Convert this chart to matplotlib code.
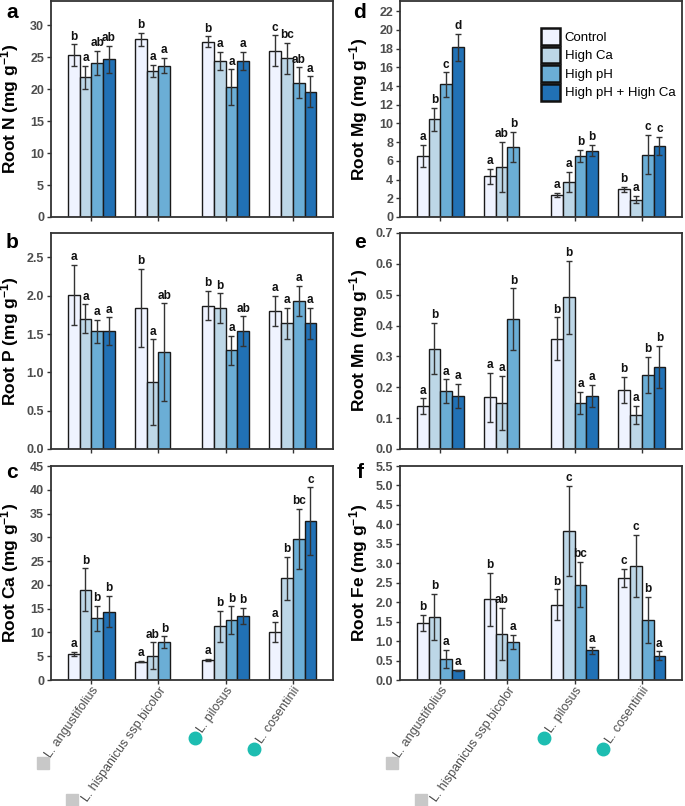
import numpy as np
import matplotlib
matplotlib.use("Agg")
import matplotlib.pyplot as plt
from matplotlib.patches import Patch
from matplotlib.lines import Line2D

plt.rcParams['font.family'] = ['Liberation Sans', 'DejaVu Sans']
plt.rcParams['mathtext.default'] = 'regular'

species = ['L. angustifolius', 'L. hispanicus ssp.bicolor', 'L. pilosus', 'L. cosentinii']
treatments = ['Control', 'High Ca', 'High pH', 'High pH + High Ca']
colors = ['#EFF3FF', '#BDD7E7', '#6BAED6', '#2171B5']
sp_marker = ['s', 's', 'o', 'o']
sp_color = ['#C8C8C8', '#C8C8C8', '#1DBDB1', '#1DBDB1']

# one row per species, one column per treatment (None = not grown)
n_mean = [[25.3, 21.9, 24.1, 24.7], [27.8, 22.9, 23.7, None], [27.4, 24.4, 20.3, 24.4], [26.0, 24.8, 21.0, 19.6]]
n_err = [[1.7, 1.8, 1.9, 2.1], [1.0, 0.95, 1.2, None], [0.85, 1.4, 2.8, 1.4], [2.4, 2.4, 2.4, 2.4]]
n_sig = [['b', 'a', 'ab', 'ab'], ['b', 'a', 'a', None], ['b', 'a', 'a', 'a'], ['c', 'bc', 'ab', 'a']]

p_mean = [[2.01, 1.70, 1.535, 1.54], [1.84, 0.87, 1.26, None], [1.87, 1.84, 1.29, 1.54], [1.80, 1.64, 1.93, 1.64]]
p_err = [[0.39, 0.19, 0.15, 0.18], [0.51, 0.56, 0.64, None], [0.19, 0.19, 0.19, 0.19], [0.2, 0.2, 0.2, 0.2]]
p_sig = [['a', 'a', 'a', 'a'], ['b', 'a', 'ab', None], ['b', 'b', 'a', 'ab'], ['a', 'a', 'a', 'a']]

ca_mean = [[5.5, 19.0, 13.0, 14.4], [3.85, 5.1, 8.0, None], [4.3, 11.3, 12.6, 13.5], [10.1, 21.4, 29.7, 33.4]]
ca_err = [[0.4, 4.5, 2.6, 3.3], [0.15, 2.8, 1.2, None], [0.2, 3.2, 2.9, 1.7], [2.1, 4.5, 6.3, 7.1]]
ca_sig = [['a', 'b', 'b', 'b'], ['a', 'ab', 'b', None], ['a', 'b', 'b', 'b'], ['a', 'b', 'bc', 'c']]

mg_mean = [[6.5, 10.44, 14.17, 18.15], [4.33, 5.36, 7.5, None], [2.38, 3.73, 6.5, 7.1], [2.95, 1.85, 6.68, 7.6]]
mg_err = [[1.2, 1.25, 1.3, 1.45], [0.8, 2.7, 1.6, None], [0.22, 1.1, 0.65, 0.6], [0.3, 0.4, 2.1, 1.0]]
mg_sig = [['a', 'b', 'c', 'd'], ['a', 'ab', 'b', None], ['a', 'a', 'b', 'b'], ['b', 'a', 'c', 'c']]

mn_mean = [[0.138, 0.325, 0.187, 0.172], [0.167, 0.150, 0.420, None], [0.357, 0.491, 0.149, 0.172], [0.191, 0.110, 0.240, 0.267]]
mn_err = [[0.026, 0.083, 0.039, 0.039], [0.08, 0.087, 0.1, None], [0.07, 0.118, 0.035, 0.036], [0.043, 0.03, 0.059, 0.068]]
mn_sig = [['a', 'b', 'a', 'a'], ['a', 'a', 'b', None], ['b', 'b', 'a', 'a'], ['b', 'a', 'b', 'b']]

fe_mean = [[1.47, 1.62, 0.54, 0.245], [2.08, 1.18, 0.98, None], [1.93, 3.83, 2.45, 0.77], [2.62, 2.94, 1.54, 0.63]]
fe_err = [[0.2, 0.59, 0.23, 0.025], [0.68, 0.67, 0.19, None], [0.4, 1.16, 0.58, 0.09], [0.23, 0.8, 0.59, 0.11]]
fe_sig = [['b', 'b', 'a', 'a'], ['b', 'ab', 'a', None], ['b', 'c', 'bc', 'a'], ['c', 'c', 'b', 'a']]

panels = [
    ('a', 'N', n_mean, n_err, n_sig, 33.8, np.arange(0, 31, 5), '%d'),
    ('b', 'P', p_mean, p_err, p_sig, 2.82, np.arange(0, 2.51, 0.5), '%.1f'),
    ('c', 'Ca', ca_mean, ca_err, ca_sig, 45, np.arange(0, 46, 5), '%d'),
    ('d', 'Mg', mg_mean, mg_err, mg_sig, 23.1, np.arange(0, 23, 2), '%d'),
    ('e', 'Mn', mn_mean, mn_err, mn_sig, 0.7, np.arange(0, 0.71, 0.1), '%.1f'),
    ('f', 'Fe', fe_mean, fe_err, fe_sig, 5.5, np.arange(0, 5.51, 0.5), '%.1f'),
]

W, H = 685, 806
fig = plt.figure(figsize=(6.85, 8.06), dpi=100)
lefts = [0.0745, 0.584]
bottoms = [0.7308, 0.443, 0.1563]
heights = [0.268, 0.268, 0.2655]
w = 0.175

bottom_axes = []
for k, (letter, el, mean, err, sig, ytop, yt, fmt) in enumerate(panels):
    col, row = k // 3, k % 3
    ax = fig.add_axes([lefts[col], bottoms[row], 0.4117, heights[row]])
    for i in range(len(species)):
        for j in range(len(treatments)):
            if mean[i][j] is None:
                continue
            x = i + (j - 1.5) * w
            ax.bar(x, mean[i][j], width=w, color=colors[j], edgecolor='#1a1a1a', linewidth=1.0, zorder=2)
            ax.errorbar(x, mean[i][j], yerr=err[i][j], fmt='none', ecolor='#333333',
                        elinewidth=1.0, capsize=2.5, capthick=1.0, zorder=3)
            ax.annotate(sig[i][j], (x, mean[i][j] + err[i][j]), xytext=(0, 1.2),
                        textcoords='offset points', ha='center', va='bottom',
                        fontsize=8.5, fontweight='bold', color='#111111')
    ax.set_xlim(-0.6, 3.6)
    ax.set_ylim(0, ytop)
    ax.set_yticks(yt)
    ax.set_yticklabels([fmt % v for v in yt], fontweight='bold')
    ax.set_xticks(range(len(species)))
    if row == 2:
        ax.set_xticklabels(species, rotation=55, ha='right', rotation_mode='anchor',
                           fontsize=9.6, color='#1a1a1a')
        bottom_axes.append(ax)
    else:
        ax.set_xticklabels([])
    ax.tick_params(axis='both', direction='out', length=3, width=1, color='#333333',
                   labelsize=9, labelcolor='#4D4D4D', pad=2)
    ax.tick_params(axis='x', pad=0.5)
    for s in ax.spines.values():
        s.set_linewidth(1.3)
        s.set_color('#333333')
    ax.set_ylabel('Root ' + el + ' (mg g$^{-1}$)', fontsize=12.5, fontweight='bold')
    ax.yaxis.set_label_coords(-0.105, 0.5)
    fig.text((12 + col * 348) / W, 1 - (12 + [0, 231, 460][row]) / H, letter,
             fontsize=15, fontweight='bold', ha='center', va='center')
    if letter == 'd':
        handles = [Patch(facecolor=c, edgecolor='#111111', linewidth=1.8) for c in colors]
        ax.legend(handles, treatments, loc='upper left', bbox_to_anchor=(0.5, 0.875),
                  frameon=False, fontsize=9.5, handlelength=1.45, handleheight=1.6,
                  labelspacing=0.12, handletextpad=0.35, borderpad=0, borderaxespad=0)

# species markers just below-left of where each rotated label starts
fig.canvas.draw()
r = fig.canvas.get_renderer()
th = np.deg2rad(55)
for ax in bottom_axes:
    for lab, mk, mc in zip(ax.get_xticklabels(), sp_marker, sp_color):
        bb = lab.get_window_extent(r)
        A = np.array([[np.cos(th), np.sin(th)], [np.sin(th), np.cos(th)]])
        tw, thh = np.linalg.solve(A, [bb.width, bb.height])
        bl = np.array([bb.x0 + thh * np.sin(th), bb.y0])
        mid = bl + 0.3 * thh * np.array([-np.sin(th), np.cos(th)])
        pos = mid + np.array([-7.5, -4.5])
        if pos[1] < 6.5:
            pos[0] -= 2.5 * (6.5 - pos[1]) / 3.0 + 1.5
            pos[1] = 6.5
        fig.add_artist(Line2D([pos[0] / W], [pos[1] / H], marker=mk, markersize=9,
                              color=mc, linestyle='none', transform=fig.transFigure))

fig.savefig('out.png', dpi=100)
